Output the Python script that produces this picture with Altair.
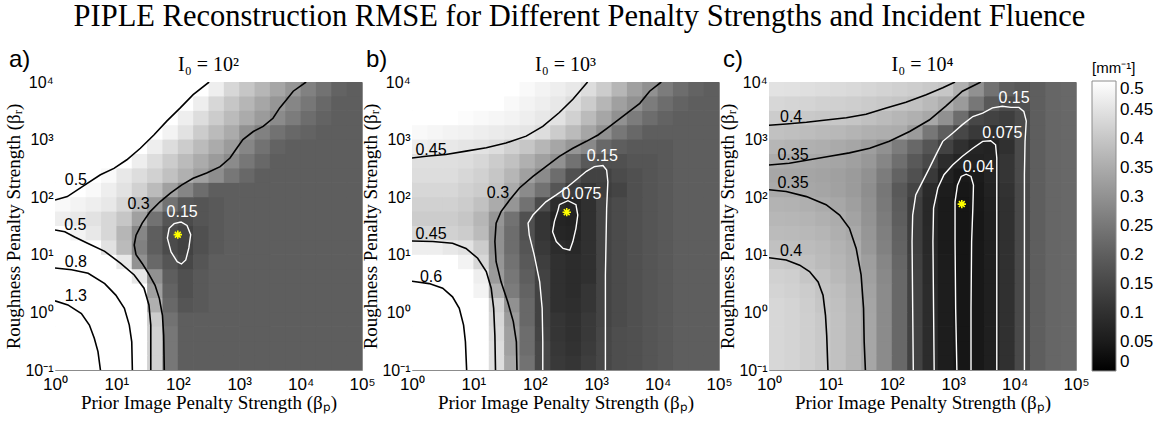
import altair as alt
import pandas as pd

TITLE = "PIPLE Reconstruction RMSE for Different Penalty Strengths and Incident Fluence"
PANEL_TAGS = ["a)", "b)", "c)"]
PANEL_TITLES = ["I₀ = 10²", "I₀ = 10³", "I₀ = 10⁴"]
X_TITLE = "Prior Image Penalty Strength (βₚ)"
Y_TITLE = "Roughness Penalty Strength (βᵣ)"
LEGEND_TITLE = "[mm⁻¹]"
X_TICKS = [0, 1, 2, 3, 4, 5]
Y_TICKS = [-1, 0, 1, 2, 3, 4]
LEGEND_VALUES = [0, 0.05, 0.1, 0.15, 0.2, 0.25, 0.3, 0.35, 0.4, 0.45, 0.5]

# cell left/bottom edges in log10 units
CELL_X = [0.0, 0.25, 0.5, 0.75, 1.0, 1.25, 1.5, 1.75, 2.0, 2.25, 2.5, 2.75, 3.0, 3.25, 3.5, 3.75, 4.0, 4.25, 4.5, 4.75]
CELL_Y = [-1.0, -0.75, -0.5, -0.25, 0.0, 0.25, 0.5, 0.75, 1.0, 1.25, 1.5, 1.75, 2.0, 2.25, 2.5, 2.75, 3.0, 3.25, 3.5, 3.75]
CELL_STEP = 0.25
CELL_OVERLAP = 0.012  # hides hairline seams between neighbouring cells

# RMSE grids, rows from bottom (beta_R = 10^-1) to top (10^4)
RMSE_A = [
    [1.9, 1.7, 1.4, 1.1, 0.9, 0.66, 0.42, 0.25, 0.2, 0.2, 0.2, 0.2, 0.2, 0.2, 0.2, 0.2, 0.2, 0.2, 0.2, 0.2],
    [1.9, 1.7, 1.4, 1.1, 0.9, 0.66, 0.42, 0.25, 0.2, 0.2, 0.2, 0.2, 0.2, 0.2, 0.2, 0.2, 0.2, 0.2, 0.2, 0.2],
    [1.8, 1.6, 1.32, 1.06, 0.88, 0.65, 0.42, 0.25, 0.2, 0.2, 0.2, 0.2, 0.2, 0.2, 0.2, 0.2, 0.2, 0.2, 0.2, 0.2],
    [1.6, 1.5, 1.25, 1.02, 0.85, 0.63, 0.41, 0.24, 0.2, 0.2, 0.2, 0.2, 0.2, 0.2, 0.2, 0.2, 0.2, 0.2, 0.2, 0.2],
    [1.35, 1.22, 1.06, 0.92, 0.78, 0.6, 0.36, 0.22, 0.18, 0.19, 0.2, 0.2, 0.2, 0.2, 0.2, 0.2, 0.2, 0.2, 0.2, 0.2],
    [1.0, 0.95, 0.9, 0.82, 0.7, 0.54, 0.33, 0.21, 0.17, 0.19, 0.2, 0.2, 0.2, 0.2, 0.2, 0.2, 0.2, 0.2, 0.2, 0.2],
    [0.86, 0.84, 0.8, 0.72, 0.62, 0.46, 0.3, 0.2, 0.17, 0.19, 0.2, 0.2, 0.2, 0.2, 0.2, 0.2, 0.2, 0.2, 0.2, 0.2],
    [0.72, 0.7, 0.66, 0.58, 0.46, 0.3, 0.22, 0.18, 0.15, 0.18, 0.2, 0.2, 0.2, 0.2, 0.2, 0.2, 0.2, 0.2, 0.2, 0.2],
    [0.58, 0.55, 0.5, 0.45, 0.38, 0.27, 0.2, 0.16, 0.14, 0.17, 0.19, 0.2, 0.2, 0.2, 0.2, 0.2, 0.2, 0.2, 0.2, 0.2],
    [0.5, 0.48, 0.46, 0.43, 0.37, 0.28, 0.2, 0.16, 0.14, 0.17, 0.19, 0.2, 0.2, 0.2, 0.2, 0.2, 0.2, 0.2, 0.2, 0.2],
    [0.47, 0.46, 0.45, 0.43, 0.4, 0.33, 0.24, 0.18, 0.16, 0.18, 0.19, 0.2, 0.2, 0.2, 0.2, 0.2, 0.2, 0.2, 0.2, 0.2],
    [0.49, 0.48, 0.47, 0.46, 0.43, 0.38, 0.32, 0.24, 0.19, 0.18, 0.19, 0.2, 0.2, 0.2, 0.2, 0.2, 0.2, 0.2, 0.2, 0.2],
    [0.55, 0.51, 0.49, 0.47, 0.45, 0.42, 0.38, 0.33, 0.28, 0.23, 0.2, 0.2, 0.2, 0.2, 0.2, 0.2, 0.2, 0.2, 0.2, 0.2],
    [0.65, 0.58, 0.52, 0.49, 0.46, 0.44, 0.42, 0.39, 0.36, 0.33, 0.295, 0.25, 0.22, 0.2, 0.2, 0.2, 0.2, 0.2, 0.2, 0.2],
    [0.75, 0.68, 0.6, 0.55, 0.5, 0.47, 0.44, 0.41, 0.38, 0.35, 0.32, 0.29, 0.25, 0.22, 0.2, 0.2, 0.2, 0.2, 0.2, 0.2],
    [0.8, 0.75, 0.68, 0.62, 0.56, 0.51, 0.47, 0.44, 0.41, 0.38, 0.35, 0.32, 0.28, 0.24, 0.21, 0.2, 0.2, 0.2, 0.2, 0.2],
    [0.85, 0.8, 0.75, 0.7, 0.63, 0.57, 0.505, 0.48, 0.45, 0.41, 0.38, 0.35, 0.3, 0.27, 0.24, 0.22, 0.21, 0.2, 0.2, 0.2],
    [0.9, 0.85, 0.8, 0.75, 0.7, 0.63, 0.57, 0.5, 0.47, 0.44, 0.41, 0.38, 0.35, 0.32, 0.29, 0.26, 0.23, 0.21, 0.2, 0.2],
    [0.95, 0.9, 0.85, 0.8, 0.74, 0.68, 0.62, 0.56, 0.51, 0.47, 0.43, 0.4, 0.37, 0.34, 0.31, 0.28, 0.25, 0.22, 0.2, 0.2],
    [1.0, 0.95, 0.9, 0.85, 0.8, 0.74, 0.68, 0.62, 0.56, 0.51, 0.47, 0.43, 0.4, 0.37, 0.34, 0.31, 0.27, 0.24, 0.21, 0.2],
]
RMSE_B = [
    [0.85, 0.8, 0.72, 0.6, 0.52, 0.44, 0.34, 0.24, 0.15, 0.12, 0.11, 0.13, 0.15, 0.165, 0.17, 0.18, 0.19, 0.2, 0.2, 0.2],
    [0.84, 0.79, 0.71, 0.6, 0.52, 0.44, 0.33, 0.23, 0.15, 0.115, 0.105, 0.125, 0.15, 0.165, 0.17, 0.18, 0.19, 0.2, 0.2, 0.2],
    [0.83, 0.78, 0.7, 0.59, 0.515, 0.435, 0.33, 0.23, 0.145, 0.11, 0.1, 0.12, 0.148, 0.165, 0.17, 0.18, 0.19, 0.2, 0.2, 0.2],
    [0.82, 0.78, 0.7, 0.58, 0.51, 0.43, 0.32, 0.22, 0.14, 0.11, 0.1, 0.12, 0.145, 0.16, 0.17, 0.18, 0.19, 0.2, 0.2, 0.2],
    [0.75, 0.7, 0.64, 0.56, 0.5, 0.42, 0.3, 0.22, 0.14, 0.1, 0.095, 0.11, 0.145, 0.16, 0.17, 0.18, 0.19, 0.2, 0.2, 0.2],
    [0.65, 0.63, 0.6, 0.53, 0.48, 0.36, 0.26, 0.21, 0.14, 0.1, 0.09, 0.11, 0.145, 0.16, 0.17, 0.18, 0.19, 0.2, 0.2, 0.2],
    [0.58, 0.57, 0.55, 0.52, 0.47, 0.32, 0.25, 0.2, 0.14, 0.1, 0.09, 0.1, 0.145, 0.16, 0.17, 0.18, 0.19, 0.2, 0.2, 0.2],
    [0.52, 0.51, 0.5, 0.48, 0.43, 0.31, 0.24, 0.19, 0.13, 0.1, 0.09, 0.1, 0.145, 0.16, 0.17, 0.18, 0.19, 0.2, 0.2, 0.2],
    [0.47, 0.47, 0.46, 0.45, 0.41, 0.3, 0.23, 0.18, 0.12, 0.09, 0.08, 0.1, 0.145, 0.16, 0.17, 0.18, 0.19, 0.2, 0.2, 0.2],
    [0.43, 0.43, 0.42, 0.41, 0.38, 0.3, 0.23, 0.17, 0.11, 0.075, 0.07, 0.1, 0.145, 0.16, 0.17, 0.18, 0.19, 0.2, 0.2, 0.2],
    [0.41, 0.41, 0.41, 0.4, 0.37, 0.31, 0.24, 0.17, 0.11, 0.07, 0.065, 0.1, 0.145, 0.16, 0.17, 0.18, 0.19, 0.2, 0.2, 0.2],
    [0.42, 0.42, 0.42, 0.41, 0.39, 0.35, 0.31, 0.24, 0.16, 0.09, 0.075, 0.1, 0.145, 0.16, 0.17, 0.18, 0.19, 0.2, 0.2, 0.2],
    [0.43, 0.43, 0.43, 0.42, 0.41, 0.39, 0.35, 0.29, 0.24, 0.18, 0.13, 0.11, 0.13, 0.145, 0.17, 0.18, 0.19, 0.2, 0.2, 0.2],
    [0.44, 0.44, 0.44, 0.43, 0.42, 0.4, 0.37, 0.33, 0.29, 0.23, 0.17, 0.14, 0.14, 0.16, 0.17, 0.18, 0.19, 0.2, 0.2, 0.2],
    [0.445, 0.445, 0.445, 0.44, 0.43, 0.41, 0.39, 0.36, 0.33, 0.3, 0.24, 0.19, 0.17, 0.17, 0.18, 0.18, 0.19, 0.2, 0.2, 0.2],
    [0.47, 0.465, 0.46, 0.455, 0.45, 0.44, 0.42, 0.4, 0.37, 0.34, 0.31, 0.285, 0.22, 0.2, 0.19, 0.19, 0.19, 0.2, 0.2, 0.2],
    [0.49, 0.485, 0.48, 0.475, 0.47, 0.465, 0.46, 0.455, 0.44, 0.41, 0.38, 0.34, 0.3, 0.25, 0.22, 0.2, 0.2, 0.2, 0.2, 0.2],
    [0.5, 0.5, 0.5, 0.495, 0.49, 0.485, 0.48, 0.47, 0.46, 0.45, 0.42, 0.38, 0.34, 0.3, 0.26, 0.23, 0.21, 0.2, 0.2, 0.2],
    [0.51, 0.51, 0.51, 0.5, 0.5, 0.5, 0.49, 0.48, 0.47, 0.46, 0.44, 0.41, 0.37, 0.33, 0.3, 0.26, 0.23, 0.21, 0.2, 0.2],
    [0.52, 0.52, 0.52, 0.51, 0.51, 0.51, 0.5, 0.49, 0.48, 0.47, 0.46, 0.44, 0.41, 0.37, 0.33, 0.3, 0.26, 0.23, 0.21, 0.2],
]
RMSE_C = [
    [0.43, 0.425, 0.415, 0.405, 0.39, 0.37, 0.34, 0.29, 0.22, 0.14, 0.09, 0.055, 0.036, 0.042, 0.06, 0.1, 0.155, 0.2, 0.215, 0.22],
    [0.43, 0.425, 0.415, 0.405, 0.39, 0.37, 0.34, 0.29, 0.22, 0.14, 0.09, 0.055, 0.036, 0.042, 0.06, 0.1, 0.155, 0.2, 0.215, 0.22],
    [0.43, 0.425, 0.415, 0.405, 0.39, 0.37, 0.34, 0.29, 0.22, 0.14, 0.09, 0.055, 0.036, 0.042, 0.06, 0.1, 0.155, 0.2, 0.215, 0.22],
    [0.43, 0.425, 0.415, 0.405, 0.39, 0.37, 0.34, 0.29, 0.22, 0.14, 0.09, 0.055, 0.036, 0.042, 0.06, 0.1, 0.155, 0.2, 0.215, 0.22],
    [0.43, 0.425, 0.413, 0.4, 0.388, 0.368, 0.338, 0.29, 0.22, 0.14, 0.09, 0.055, 0.036, 0.042, 0.06, 0.1, 0.155, 0.2, 0.215, 0.22],
    [0.425, 0.42, 0.41, 0.395, 0.385, 0.365, 0.335, 0.29, 0.22, 0.14, 0.09, 0.055, 0.036, 0.042, 0.06, 0.1, 0.155, 0.2, 0.215, 0.22],
    [0.42, 0.415, 0.4, 0.39, 0.375, 0.36, 0.33, 0.285, 0.22, 0.14, 0.088, 0.054, 0.036, 0.042, 0.06, 0.1, 0.155, 0.2, 0.215, 0.22],
    [0.405, 0.4, 0.39, 0.38, 0.37, 0.355, 0.325, 0.28, 0.215, 0.135, 0.085, 0.052, 0.035, 0.041, 0.06, 0.1, 0.155, 0.2, 0.215, 0.22],
    [0.39, 0.387, 0.382, 0.375, 0.365, 0.352, 0.315, 0.27, 0.21, 0.13, 0.083, 0.05, 0.034, 0.04, 0.06, 0.1, 0.155, 0.2, 0.215, 0.22],
    [0.38, 0.378, 0.374, 0.368, 0.358, 0.345, 0.31, 0.265, 0.205, 0.13, 0.082, 0.05, 0.033, 0.039, 0.06, 0.1, 0.155, 0.2, 0.215, 0.22],
    [0.372, 0.37, 0.366, 0.36, 0.352, 0.335, 0.305, 0.26, 0.2, 0.13, 0.08, 0.05, 0.033, 0.038, 0.06, 0.1, 0.155, 0.2, 0.215, 0.22],
    [0.365, 0.362, 0.357, 0.35, 0.342, 0.328, 0.3, 0.255, 0.195, 0.13, 0.08, 0.05, 0.034, 0.04, 0.062, 0.1, 0.155, 0.2, 0.215, 0.22],
    [0.348, 0.346, 0.343, 0.338, 0.332, 0.32, 0.295, 0.25, 0.19, 0.145, 0.085, 0.055, 0.038, 0.045, 0.065, 0.105, 0.155, 0.2, 0.215, 0.22],
    [0.342, 0.341, 0.339, 0.335, 0.33, 0.32, 0.3, 0.26, 0.21, 0.17, 0.12, 0.065, 0.045, 0.05, 0.07, 0.11, 0.16, 0.2, 0.215, 0.22],
    [0.353, 0.35, 0.347, 0.343, 0.338, 0.33, 0.315, 0.28, 0.235, 0.19, 0.155, 0.09, 0.07, 0.065, 0.072, 0.11, 0.16, 0.2, 0.215, 0.22],
    [0.37, 0.365, 0.36, 0.355, 0.348, 0.34, 0.325, 0.3, 0.26, 0.22, 0.18, 0.14, 0.1, 0.074, 0.068, 0.1, 0.16, 0.2, 0.215, 0.22],
    [0.39, 0.387, 0.383, 0.378, 0.373, 0.367, 0.36, 0.355, 0.352, 0.32, 0.25, 0.2, 0.15, 0.12, 0.1, 0.11, 0.16, 0.2, 0.215, 0.22],
    [0.41, 0.407, 0.404, 0.402, 0.401, 0.397, 0.388, 0.38, 0.37, 0.36, 0.345, 0.3, 0.23, 0.15, 0.14, 0.13, 0.16, 0.2, 0.215, 0.22],
    [0.43, 0.427, 0.424, 0.42, 0.417, 0.413, 0.408, 0.403, 0.398, 0.39, 0.375, 0.355, 0.32, 0.25, 0.19, 0.16, 0.17, 0.2, 0.215, 0.22],
    [0.45, 0.447, 0.444, 0.44, 0.437, 0.433, 0.428, 0.423, 0.418, 0.412, 0.405, 0.4, 0.36, 0.3, 0.24, 0.2, 0.19, 0.2, 0.215, 0.22],
]

# contour lines: (level label, line colour, log10 beta_P, log10 beta_R)
CONTOURS_A = [
    ("1.3", "black", [0, 0.21, 0.43, 0.56, 0.64, 0.70, 0.74], [0.20, 0.13, -0.02, -0.22, -0.45, -0.68, -1.0]),
    ("0.8", "black", [0, 0.27, 0.54, 0.81, 0.99, 1.13, 1.21, 1.25, 1.26], [0.77, 0.74, 0.68, 0.50, 0.30, 0.07, -0.22, -0.51, -1.0]),
    ("0.5", "black", [0, 0.16, 0.32, 0.53, 0.81, 1.07, 1.29, 1.45, 1.53, 1.56, 1.56], [1.43, 1.40, 1.31, 1.20, 1.06, 0.85, 0.65, 0.42, 0.13, -0.22, -1.0]),
    ("0.3", "black",
     [1.78, 1.77, 1.75, 1.70, 1.63, 1.52, 1.42, 1.32, 1.29, 1.32, 1.42, 1.55, 1.71, 1.88, 2.06, 2.25, 2.47, 2.69, 2.85, 2.96, 3.06, 3.23, 3.39, 3.55, 3.66, 3.77, 3.88, 4.09],
     [-1.0, -0.40, -0.05, 0.24, 0.47, 0.68, 0.85, 1.0, 1.17, 1.34, 1.55, 1.75, 1.92, 2.07, 2.21, 2.33, 2.42, 2.53, 2.68, 2.85, 3.0, 3.14, 3.23, 3.37, 3.55, 3.69, 3.84, 4.0]),
    ("0.5", "black", [0, 0.2, 0.47, 0.74, 0.96, 1.17, 1.39, 1.61, 1.82, 2.04, 2.25, 2.51], [1.95, 2.01, 2.20, 2.39, 2.50, 2.65, 2.85, 3.08, 3.32, 3.55, 3.78, 4.0]),
    ("0.15", "white", [2.05, 2.15, 2.21, 2.18, 2.13, 2.06, 1.99, 1.89, 1.83, 1.86, 1.94, 2.05], [1.57, 1.51, 1.35, 1.12, 0.91, 0.84, 0.88, 1.05, 1.29, 1.46, 1.54, 1.57]),
]
CONTOURS_B = [
    ("0.45", "black", [0, 0.23, 0.55, 0.88, 1.21, 1.53, 1.86, 2.13, 2.40, 2.62, 2.78, 2.86], [2.68, 2.71, 2.74, 2.80, 2.86, 2.94, 3.06, 3.23, 3.47, 3.70, 3.90, 4.0]),
    ("0.3", "black",
     [1.71, 1.70, 1.65, 1.56, 1.45, 1.37, 1.35, 1.37, 1.45, 1.59, 1.75, 1.97, 2.18, 2.40, 2.62, 2.84, 3.03, 3.22, 3.38, 3.54, 3.71, 3.87, 4.06],
     [-1.0, -0.51, -0.16, 0.18, 0.53, 0.88, 1.23, 1.55, 1.75, 1.95, 2.16, 2.36, 2.53, 2.71, 2.85, 2.97, 3.08, 3.23, 3.36, 3.49, 3.63, 3.84, 4.0]),
    ("0.45", "black", [0, 0.34, 0.66, 0.88, 1.07, 1.21, 1.29, 1.33, 1.35, 1.36], [1.24, 1.23, 1.20, 1.11, 0.94, 0.71, 0.42, 0.07, -0.40, -1.0]),
    ("0.6", "black", [0, 0.28, 0.5, 0.66, 0.77, 0.84, 0.87, 0.89], [0.54, 0.50, 0.42, 0.27, 0.07, -0.22, -0.51, -1.0]),
    ("0.15", "white",
     [2.13, 2.13, 2.12, 2.08, 1.99, 1.91, 1.89, 1.97, 2.18, 2.35, 2.51, 2.67, 2.84, 2.97, 3.11, 3.17, 3.19, 3.17, 3.16, 3.15, 3.15, 3.15],
     [-1.0, -0.51, 0.07, 0.53, 1.0, 1.34, 1.55, 1.69, 1.92, 2.04, 2.16, 2.30, 2.45, 2.53, 2.55, 2.47, 2.27, 1.81, 1.23, 0.65, 0.07, -1.0]),
    ("0.075", "white", [2.40, 2.54, 2.67, 2.70, 2.67, 2.62, 2.57, 2.46, 2.35, 2.29, 2.32, 2.38, 2.40], [1.87, 1.94, 1.87, 1.69, 1.46, 1.23, 1.08, 1.11, 1.23, 1.40, 1.58, 1.78, 1.87]),
]
CONTOURS_C = [
    ("0.4", "black", [0, 0.28, 0.61, 0.93, 1.26, 1.58, 1.91, 2.23, 2.56, 2.83, 3.03], [3.25, 3.27, 3.30, 3.34, 3.38, 3.44, 3.55, 3.65, 3.78, 3.90, 4.0]),
    ("0.35", "black", [0, 0.33, 0.66, 0.99, 1.31, 1.64, 1.96, 2.29, 2.61, 2.88, 3.15, 3.45], [2.56, 2.59, 2.65, 2.71, 2.77, 2.85, 2.97, 3.14, 3.34, 3.58, 3.84, 4.0]),
    ("0.35", "black", [0, 0.28, 0.61, 0.93, 1.15, 1.31, 1.42, 1.50, 1.54, 1.55, 1.57], [2.13, 2.10, 2.01, 1.87, 1.69, 1.46, 1.11, 0.65, 0.07, -0.51, -1.0]),
    ("0.4", "black", [0, 0.28, 0.50, 0.66, 0.80, 0.88, 0.92, 0.94, 0.96], [0.95, 0.91, 0.82, 0.71, 0.53, 0.30, -0.05, -0.40, -1.0]),
    ("0.15", "white",
     [2.35, 2.34, 2.33, 2.34, 2.39, 2.50, 2.61, 2.72, 2.83, 2.99, 3.15, 3.32, 3.48, 3.64, 3.80, 3.94, 4.07, 4.15, 4.19, 4.17, 4.16, 4.16, 4.16, 4.16],
     [-1.0, 0.07, 1.23, 1.69, 2.04, 2.27, 2.50, 2.74, 2.97, 3.11, 3.26, 3.40, 3.46, 3.55, 3.58, 3.56, 3.56, 3.49, 3.32, 2.97, 2.39, 1.23, 0.07, -1.0]),
    ("0.075", "white",
     [2.69, 2.68, 2.67, 2.68, 2.75, 2.85, 2.99, 3.15, 3.32, 3.48, 3.61, 3.69, 3.71, 3.71, 3.71, 3.71, 3.71],
     [-1.0, 0.07, 1.23, 1.81, 2.16, 2.39, 2.56, 2.71, 2.85, 2.97, 2.98, 2.91, 2.68, 2.10, 1.23, 0.07, -1.0]),
    ("0.04", "white", [3.06, 3.04, 3.03, 3.03, 3.07, 3.13, 3.21, 3.29, 3.33, 3.32, 3.30, 3.29, 3.29], [-1.0, 0.07, 1.23, 1.92, 2.21, 2.36, 2.40, 2.36, 2.21, 1.81, 1.23, 0.07, -1.0]),
]

# contour labels: (text, log10 beta_P, log10 beta_R, colour)
LABELS_A = [("0.5", 0.34, 2.30, "black"), ("0.3", 1.36, 1.88, "black"), ("0.5", 0.33, 1.52, "black"),
            ("0.8", 0.34, 0.88, "black"), ("1.3", 0.34, 0.28, "black"), ("0.15", 2.07, 1.75, "white")]
LABELS_B = [("0.45", 0.31, 2.82, "black"), ("0.3", 1.40, 2.07, "black"), ("0.45", 0.31, 1.36, "black"),
            ("0.6", 0.31, 0.62, "black"), ("0.15", 3.10, 2.72, "white"), ("0.075", 2.76, 2.05, "white")]
LABELS_C = [("0.4", 0.36, 3.39, "black"), ("0.35", 0.39, 2.74, "black"), ("0.35", 0.39, 2.24, "black"),
            ("0.4", 0.36, 1.06, "black"), ("0.15", 3.99, 3.73, "white"), ("0.075", 3.80, 3.11, "white"),
            ("0.04", 3.41, 2.52, "white")]

# optimum markers (log10 beta_P, log10 beta_R)
OPTIMA = [(2.0, 1.35), (2.52, 1.74), (3.14, 1.88)]

GRIDS = [RMSE_A, RMSE_B, RMSE_C]
CONTOURS = [CONTOURS_A, CONTOURS_B, CONTOURS_C]
LABELS = [LABELS_A, LABELS_B, LABELS_C]

SANS = "Liberation Sans"
SERIF = "Liberation Serif"
PW, PH = 307, 288
STAR = "M-1,0L1,0M0,-1L0,1M-0.7,-0.7L0.7,0.7M-0.7,0.7L0.7,-0.7"

XSCALE = alt.Scale(domain=[0, 5], nice=False, zero=False)
YSCALE = alt.Scale(domain=[-1, 4], nice=False, zero=False)
CSCALE = alt.Scale(domain=[0, 0.5], range=["#000000", "#ffffff"], clamp=True)
SUPS = "'⁰¹²³⁴⁵'"
XAXIS = alt.Axis(values=X_TICKS, title=X_TITLE, grid=False, ticks=False, domain=False,
                 labelFlush=False,
                 labelExpr="'10' + substring(" + SUPS + ", datum.value, datum.value + 1)",
                 labelFont=SANS, labelFontSize=17, labelColor="black", labelPadding=6,
                 titleFont=SERIF, titleFontSize=19, titleFontWeight="normal", titleColor="black",
                 titlePadding=1)
YAXIS = alt.Axis(values=Y_TICKS, title=Y_TITLE, grid=False, ticks=False, domain=False,
                 labelFlush=False,
                 labelExpr="datum.value < 0 ? '10⁻¹' : '10' + substring(" + SUPS + ", datum.value, datum.value + 1)",
                 labelFont=SANS, labelFontSize=16, labelColor="black", labelPadding=2,
                 titleFont=SERIF, titleFontSize=19, titleFontWeight="normal", titleColor="black",
                 titlePadding=1)


def xe(f):
    return alt.X(f, type="quantitative", scale=XSCALE, axis=XAXIS)


def ye(f):
    return alt.Y(f, type="quantitative", scale=YSCALE, axis=YAXIS)


def panel(i):
    recs = []
    for j, row in enumerate(GRIDS[i]):
        assert len(row) == len(CELL_X)
        for k, v in enumerate(row):
            recs.append({"x0": CELL_X[k], "x1": min(5.0, CELL_X[k] + CELL_STEP + CELL_OVERLAP),
                         "y0": CELL_Y[j], "y1": min(4.0, CELL_Y[j] + CELL_STEP + CELL_OVERLAP),
                         "rmse": v})
    heat_df = pd.DataFrame(recs)
    if i == 2:
        legend = alt.Legend(type="gradient", title=LEGEND_TITLE, values=LEGEND_VALUES, format=".2~f",
                            direction="vertical", orient="none", legendX=PW + 16, legendY=-21,
                            gradientLength=290, gradientThickness=24,
                            labelOverlap=False, labelFont=SANS, labelFontSize=17, labelColor="black",
                            labelBaseline="middle", labelOffset=4,
                            titleFont=SANS, titleFontSize=15, titleFontWeight="normal",
                            titleColor="black", titlePadding=5,
                            gradientStrokeColor="#8c8c8c", gradientStrokeWidth=1)
    else:
        legend = None
    heat = alt.Chart(heat_df).mark_rect().encode(
        x=xe("x0"), x2="x1", y=ye("y0"), y2="y1",
        color=alt.Color("rmse:Q", scale=CSCALE, legend=legend),
    )

    lrecs = []
    for c, (lev, col, xs, ys) in enumerate(CONTOURS[i]):
        assert len(xs) == len(ys)
        for k, (a, b) in enumerate(zip(xs, ys)):
            lrecs.append({"cid": c, "k": k, "lx": a, "ly": b, "col": col})
    line_df = pd.DataFrame(lrecs)
    layers = [heat]
    for col, sw in (("black", 1.6), ("white", 1.4)):
        sub = line_df[line_df["col"] == col]
        layers.append(alt.Chart(sub).mark_line(color=col, strokeWidth=sw, clip=True).encode(
            x=xe("lx"), y=ye("ly"), detail="cid:N", order="k:Q"))

    lab_df = pd.DataFrame([{"t": t, "lx": a, "ly": b, "col": c} for t, a, b, c in LABELS[i]])
    for col in ("black", "white"):
        sub = lab_df[lab_df["col"] == col]
        layers.append(alt.Chart(sub).mark_text(color=col, font=SANS, fontSize=16).encode(
            x=xe("lx"), y=ye("ly"), text="t:N"))

    star_df = pd.DataFrame([{"lx": OPTIMA[i][0], "ly": OPTIMA[i][1]}])
    layers.append(alt.Chart(star_df).mark_point(shape=STAR, stroke="#ffff00", strokeWidth=1.6,
                                                size=70, filled=False, opacity=1).encode(
        x=xe("lx"), y=ye("ly")))

    head_df = pd.DataFrame([{"tag": PANEL_TAGS[i], "ttl": PANEL_TITLES[i]}])
    layers.append(alt.Chart(head_df).mark_text(font=SANS, fontSize=24, color="black", align="left",
                                               baseline="middle").encode(
        text="tag:N", x=alt.value(-46), y=alt.value(-22)))
    layers.append(alt.Chart(head_df).mark_text(font=SERIF, fontSize=20, color="black", align="center",
                                               baseline="middle").encode(
        text="ttl:N", x=alt.value(PW / 2), y=alt.value(-17)))

    return alt.layer(*layers).properties(width=PW, height=PH)


chart = alt.hconcat(panel(0), panel(1), panel(2), spacing=50, bounds="flush").resolve_scale(
    color="independent"
).properties(
    title=alt.TitleParams(TITLE, font=SERIF, fontSize=30.5, fontWeight="normal", color="black",
                          anchor="middle", offset=15),
    padding={"left": 4, "top": 2, "right": 4, "bottom": 2},
    background="white",
).configure_view(stroke="#8c8c8c", strokeWidth=1)

chart.save("out.html", embed_options={"renderer": "svg", "actions": False})
